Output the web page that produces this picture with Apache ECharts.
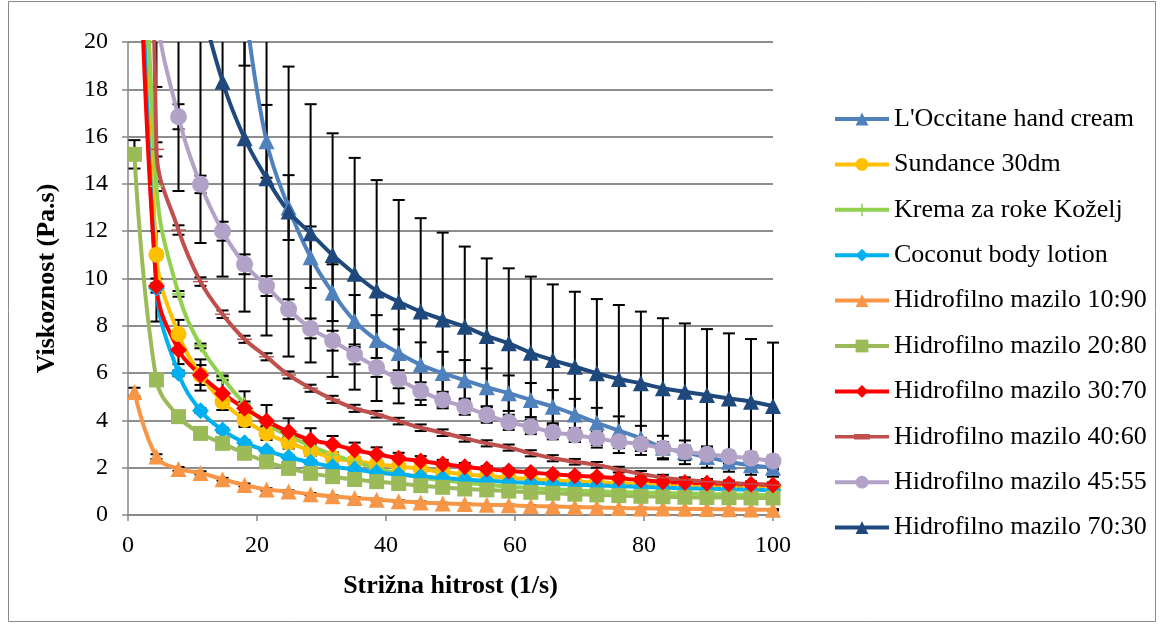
<!DOCTYPE html>
<html>
<head>
<meta charset="utf-8">
<script src="https://cdn.jsdelivr.net/npm/echarts@6/dist/echarts.min.js"></script>
<style>
html,body{margin:0;padding:0;background:#fff;}
#chart{width:1164px;height:624px;}
</style>
</head>
<body>
<div id="chart"></div>
<script>
// Shear rate (1/s)
const shearRate = [1.00, 4.41, 7.83, 11.24, 14.66, 18.07, 21.48, 24.90, 28.31, 31.72, 35.14, 38.55, 41.97, 45.38, 48.79, 52.21, 55.62, 59.03, 62.45, 65.86, 69.28, 72.69, 76.10, 79.52, 82.93, 86.34, 89.76, 93.17, 96.59, 100.00];

const seriesNames = ["L'Occitane hand cream", "Sundance 30dm", "Krema za roke Koželj", "Coconut body lotion", "Hidrofilno mazilo 10:90", "Hidrofilno mazilo 20:80", "Hidrofilno mazilo 30:70", "Hidrofilno mazilo 40:60", "Hidrofilno mazilo 45:55", "Hidrofilno mazilo 70:30"];

// Viscosity (Pa.s)
const lOccitane = [200, 90, 55, 38, 28, 21.5, 15.8, 13.0, 10.9, 9.4, 8.2, 7.4, 6.85, 6.35, 6.0, 5.7, 5.4, 5.15, 4.86, 4.58, 4.25, 3.9, 3.57, 3.24, 2.85, 2.65, 2.45, 2.25, 2.1, 2.0];
const sundance = [40, 11.0, 7.65, 5.92, 4.79, 4.02, 3.45, 3.06, 2.72, 2.42, 2.27, 2.15, 2.05, 1.95, 1.82, 1.72, 1.64, 1.57, 1.51, 1.46, 1.42, 1.38, 1.34, 1.31, 1.28, 1.25, 1.22, 1.2, 1.17, 1.15];
const krema = [40, 13.9, 9.35, 7.15, 5.8, 4.7, 3.85, 3.35, 2.92, 2.55, 2.25, 1.97, 1.76, 1.6, 1.47, 1.37, 1.28, 1.2, 1.14, 1.09, 1.04, 1.0, 0.97, 0.95, 0.93, 0.91, 0.89, 0.87, 0.85, 0.84];
const coconut = [35, 9.6, 5.99, 4.41, 3.59, 3.06, 2.72, 2.44, 2.23, 2.04, 1.93, 1.8, 1.71, 1.63, 1.56, 1.5, 1.45, 1.4, 1.36, 1.32, 1.28, 1.25, 1.22, 1.19, 1.16, 1.13, 1.11, 1.09, 1.07, 1.05];
const hm1090 = [5.2, 2.47, 1.95, 1.78, 1.51, 1.27, 1.08, 0.99, 0.88, 0.79, 0.72, 0.65, 0.58, 0.53, 0.49, 0.46, 0.43, 0.41, 0.38, 0.36, 0.34, 0.32, 0.3, 0.28, 0.27, 0.26, 0.25, 0.24, 0.23, 0.22];
const hm2080 = [15.25, 5.71, 4.16, 3.45, 3.03, 2.61, 2.25, 1.97, 1.76, 1.62, 1.5, 1.41, 1.33, 1.24, 1.17, 1.1, 1.06, 1.01, 0.96, 0.92, 0.88, 0.85, 0.82, 0.79, 0.77, 0.75, 0.74, 0.73, 0.72, 0.72];
const hm3070 = [32, 9.68, 6.98, 5.92, 5.14, 4.51, 3.97, 3.52, 3.17, 2.99, 2.75, 2.57, 2.4, 2.28, 2.16, 2.04, 1.94, 1.86, 1.8, 1.72, 1.66, 1.62, 1.55, 1.48, 1.41, 1.37, 1.34, 1.31, 1.3, 1.27];
const hm4060 = [100, 15.46, 12.05, 9.87, 8.49, 7.43, 6.69, 5.92, 5.36, 4.89, 4.51, 4.26, 3.97, 3.69, 3.48, 3.24, 3.03, 2.85, 2.61, 2.4, 2.25, 2.12, 1.92, 1.74, 1.58, 1.48, 1.41, 1.35, 1.31, 1.27];
const hm4555 = [40, 21.5, 16.84, 13.98, 12.0, 10.6, 9.68, 8.7, 7.89, 7.37, 6.79, 6.24, 5.74, 5.24, 4.86, 4.58, 4.23, 3.92, 3.73, 3.5, 3.38, 3.24, 3.1, 3.0, 2.82, 2.68, 2.57, 2.47, 2.4, 2.28];
const hm7030 = [70, 40, 28, 22, 18.32, 15.93, 14.24, 12.83, 11.91, 10.99, 10.2, 9.49, 9.02, 8.6, 8.27, 7.96, 7.57, 7.26, 6.86, 6.55, 6.27, 5.99, 5.75, 5.57, 5.36, 5.21, 5.07, 4.93, 4.79, 4.61];

// Error (± Pa.s)
const errOccitane = [20, 12, 8, 5, 3.5, 2.5, 1.54, 1.37, 1.3, 1.2, 1.1, 1.05, 1.0, 0.95, 0.9, 0.85, 0.8, 0.75, 0.72, 0.7, 0.66, 0.63, 0.6, 0.53, 0.5, 0.5, 0.45, 0.42, 0.4, 0.38];
const errSundance = [3, 1.0, 0.6, 0.66, 0.35, 0.3, 0.28, 0.25, 0.22, 0.2, 0.18, 0.16, 0.15, 0.14, 0.13, 0.12, 0.11, 0.1, 0.1, 0.1, 0.1, 0.09, 0.09, 0.09, 0.09, 0.08, 0.08, 0.08, 0.08, 0.08];
const errKrema = [2, 0.2, 0.12, 0.1, 0.1, 0.1, 0.1, 0.09, 0.09, 0.09, 0.08, 0.08, 0.08, 0.08, 0.07, 0.07, 0.07, 0.07, 0.07, 0.06, 0.06, 0.06, 0.06, 0.06, 0.06, 0.05, 0.05, 0.05, 0.05, 0.05];
const errCoconut = [2, 0.2, 0.12, 0.1, 0.1, 0.1, 0.09, 0.09, 0.08, 0.08, 0.08, 0.07, 0.07, 0.07, 0.07, 0.06, 0.06, 0.06, 0.06, 0.06, 0.05, 0.05, 0.05, 0.05, 0.05, 0.05, 0.05, 0.05, 0.05, 0.05];
const err1090 = [0.18, 0.1, 0.08, 0.07, 0.06, 0.06, 0.05, 0.05, 0.05, 0.04, 0.04, 0.04, 0.04, 0.04, 0.03, 0.03, 0.03, 0.03, 0.03, 0.03, 0.03, 0.03, 0.03, 0.03, 0.03, 0.03, 0.03, 0.03, 0.03, 0.03];
const err2080 = [0.6, 0.15, 0.12, 0.1, 0.1, 0.09, 0.09, 0.08, 0.08, 0.08, 0.07, 0.07, 0.07, 0.06, 0.06, 0.06, 0.06, 0.05, 0.05, 0.05, 0.05, 0.05, 0.05, 0.05, 0.05, 0.05, 0.05, 0.05, 0.05, 0.05];
const err3070 = [3, 1.5, 0.6, 0.42, 0.7, 0.72, 0.68, 0.57, 0.5, 0.35, 0.31, 0.29, 0.23, 0.21, 0.17, 0.16, 0.13, 0.11, 0.1, 0.1, 0.1, 0.09, 0.09, 0.09, 0.08, 0.08, 0.08, 0.08, 0.08, 0.08];
const err4060 = [3, 0.3, 0.2, 0.18, 0.16, 0.15, 0.15, 0.15, 0.15, 0.15, 0.15, 0.14, 0.14, 0.14, 0.14, 0.14, 0.13, 0.13, 0.13, 0.13, 0.12, 0.12, 0.12, 0.12, 0.12, 0.11, 0.11, 0.11, 0.11, 0.11];
const err4555 = [1.5, 1.0, 0.53, 0.37, 0.4, 0.42, 0.42, 0.42, 0.42, 0.42, 0.42, 0.4, 0.38, 0.37, 0.35, 0.34, 0.33, 0.32, 0.31, 0.3, 0.29, 0.28, 0.27, 0.26, 0.26, 0.25, 0.25, 0.24, 0.24, 0.23];
const err7030 = [45, 21.9, 14.3, 10.5, 8.24, 7.33, 6.65, 6.13, 5.46, 5.15, 4.9, 4.67, 4.3, 3.95, 3.67, 3.39, 3.28, 3.17, 3.22, 3.2, 3.17, 3.14, 3.13, 3.03, 2.96, 2.89, 2.79, 2.75, 2.65, 2.68];

const xTicks = [0, 20, 40, 60, 80, 100];
const yTicks = [0, 2, 4, 6, 8, 10, 12, 14, 16, 18, 20];

const values = [lOccitane, sundance, krema, coconut, hm1090, hm2080, hm3070, hm4060, hm4555, hm7030];
const errors = [errOccitane, errSundance, errKrema, errCoconut, err1090, err2080, err3070, err4060, err4555, err7030];

const colors = ['#4F81BD', '#FFC000', '#92D050', '#00B0F0', '#F79646', '#9BBB59', '#FF0000', '#C0504D', '#B3A2C7', '#1F497D'];
const symbols = ['triangle', 'circle', 'path://M0,4.4H10V5.6H0Z M4.4,0H5.6V10H4.4Z', 'diamond', 'triangle', 'rect', 'diamond', 'path://M0,0H14V4H0Z', 'circle', 'triangle'];
const symbolSizes = [16, 16, 13, 17, 16, 15, 17, [15, 5], 17, 16];
// legend icon for the dash-marker series (line + short thick dash)
const dashLegendIcon = 'path://M0,0H0.01V16H0Z M0,6.3H54V9.7H0Z M19,5.2H35V10.8H19Z';

const FONT = 'Liberation Serif';

function errorRender(params, api) {
  const cs = params.coordSys;
  const xv = api.value(0), lo = api.value(1), hi = api.value(2);
  const pLo = api.coord([xv, lo]);
  const pHi = api.coord([xv, hi]);
  const top = cs.y, bot = cs.y + cs.height;
  const px = pLo[0];
  const y1 = Math.max(pHi[1], top), y2 = Math.min(pLo[1], bot);
  if (y1 >= y2) return null;
  const st = { stroke: '#000', lineWidth: 2 };
  const children = [{ type: 'line', shape: { x1: px, y1: y1, x2: px, y2: y2 }, style: st }];
  const hw = 6;
  if (pHi[1] >= top) children.push({ type: 'line', shape: { x1: px - hw, y1: pHi[1], x2: px + hw, y2: pHi[1] }, style: st });
  if (pLo[1] <= bot) children.push({ type: 'line', shape: { x1: px - hw, y1: pLo[1], x2: px + hw, y2: pLo[1] }, style: st });
  return { type: 'group', children: children };
}

const series = [];
values.forEach(function (vals, i) {
  series.push({
    name: seriesNames[i] + ' err',
    type: 'custom',
    renderItem: errorRender,
    data: shearRate.map(function (x, j) { return [x, vals[j] - errors[i][j], vals[j] + errors[i][j]]; }),
    encode: { x: 0, y: [1, 2] },
    z: 1,
    silent: true
  });
});
values.forEach(function (vals, i) {
  series.push({
    name: seriesNames[i],
    type: 'line',
    data: shearRate.map(function (x, j) { return [x, vals[j]]; }),
    smooth: 0.4,
    clip: true,
    symbol: symbols[i],
    symbolSize: symbolSizes[i],
    symbolKeepAspect: true,
    showAllSymbol: true,
    lineStyle: { color: colors[i], width: 4 },
    itemStyle: { color: colors[i], borderWidth: 0 },
    z: 2,
    silent: true
  });
});

const legendData = seriesNames.map(function (n, i) {
  return i === 7 ? { name: n, icon: dashLegendIcon, itemStyle: { color: colors[i] } } : { name: n };
});

const chart = echarts.init(document.getElementById('chart'), null, { renderer: 'canvas' });
chart.setOption({
  animation: false,
  backgroundColor: '#fff',
  graphic: [{
    type: 'rect', shape: { x: 8.5, y: 1.5, width: 1147, height: 620 },
    style: { fill: 'none', stroke: '#8a8a8a', lineWidth: 1 }, silent: true, z: 0
  }],
  grid: { left: 128, right: 391, top: 42, bottom: 109, containLabel: false },
  legend: {
    orient: 'vertical',
    left: 828, top: 101,
    itemWidth: 54, itemHeight: 16, itemGap: 19.4,
    data: legendData,
    lineStyle: { width: 4 },
    textStyle: { fontFamily: FONT, fontSize: 26, color: '#000', lineHeight: 26 }
  },
  xAxis: {
    type: 'value', min: 0, max: 100, interval: 20,
    name: 'Strižna hitrost (1/s)', nameLocation: 'middle', nameGap: 58,
    nameTextStyle: { fontFamily: FONT, fontSize: 26, fontWeight: 'bold', color: '#000' },
    axisLine: { lineStyle: { color: '#868686', width: 1.5 } },
    axisTick: { show: true, length: 6, lineStyle: { color: '#868686', width: 1.5 } },
    axisLabel: { fontFamily: FONT, fontSize: 24, color: '#000', margin: 19,
      formatter: function (v) { return xTicks.indexOf(v) >= 0 ? String(v) : ''; } },
    splitLine: { show: false }
  },
  yAxis: {
    type: 'value', min: 0, max: 20, interval: 2,
    name: 'Viskoznost (Pa.s)', nameLocation: 'middle', nameGap: 68, nameRotate: 90,
    nameTextStyle: { fontFamily: FONT, fontSize: 26, fontWeight: 'bold', color: '#000' },
    axisLine: { show: true, lineStyle: { color: '#868686', width: 1.5 } },
    axisTick: { show: true, length: 6, lineStyle: { color: '#868686', width: 1.5 } },
    axisLabel: { fontFamily: FONT, fontSize: 24, color: '#000', margin: 20,
      formatter: function (v) { return yTicks.indexOf(v) >= 0 ? String(v) : ''; } },
    splitLine: { show: true, lineStyle: { color: '#8E8E8E', width: 2 } }
  },
  series: series
});
</script>
</body>
</html>
